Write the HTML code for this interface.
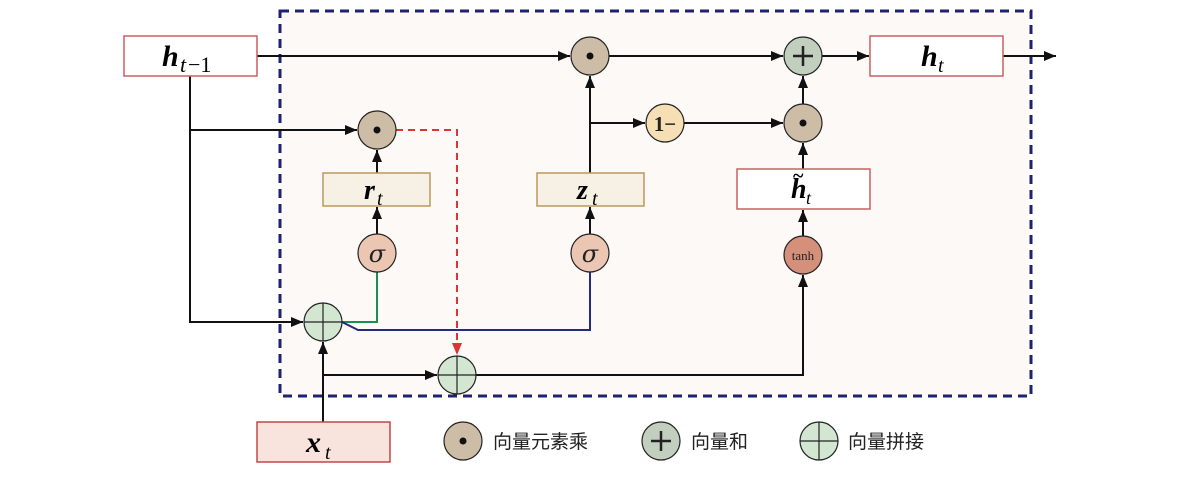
<!DOCTYPE html>
<html><head><meta charset="utf-8"><style>
html,body{margin:0;padding:0;background:#fff;}
svg{display:block;}
.m{font-family:"Liberation Serif",serif;font-weight:bold;font-style:italic;}
.s{font-family:"Liberation Serif",serif;font-style:italic;}
.c{font-family:"Liberation Sans","Noto Sans CJK SC",sans-serif;font-size:19px;fill:#222;}
</style></head><body>
<svg width="1190" height="478" viewBox="0 0 1190 478" xmlns="http://www.w3.org/2000/svg">
<defs>
<marker id="a" markerWidth="12" markerHeight="10" refX="12" refY="5" orient="auto" markerUnits="userSpaceOnUse"><path d="M0,0 L12,5 L0,10 z" fill="#111"/></marker>
<marker id="r" markerWidth="12" markerHeight="10" refX="12" refY="5" orient="auto" markerUnits="userSpaceOnUse"><path d="M0,0 L12,5 L0,10 z" fill="#d33"/></marker>
</defs>
<rect x="280" y="11" width="751" height="385" fill="#fdf9f6" stroke="#1e2270" stroke-width="3" stroke-dasharray="9,6"/>
<g stroke="#111" stroke-width="2" fill="none">
<line x1="257" y1="56" x2="570" y2="56" marker-end="url(#a)"/>
<line x1="609" y1="56" x2="783" y2="56" marker-end="url(#a)"/>
<line x1="822" y1="56" x2="869" y2="56" marker-end="url(#a)"/>
<line x1="1003" y1="56" x2="1056" y2="56" marker-end="url(#a)"/>
<polyline points="190,76 190,322 303,322" marker-end="url(#a)"/>
<line x1="190" y1="130" x2="357" y2="130" marker-end="url(#a)"/>
<line x1="377" y1="173" x2="377" y2="150" marker-end="url(#a)"/>
<line x1="377" y1="234" x2="377" y2="207" marker-end="url(#a)"/>
<line x1="590" y1="173" x2="590" y2="76" marker-end="url(#a)"/>
<line x1="590" y1="234" x2="590" y2="207" marker-end="url(#a)"/>
<line x1="590" y1="123" x2="645" y2="123" marker-end="url(#a)"/>
<line x1="684" y1="123" x2="783" y2="123" marker-end="url(#a)"/>
<line x1="803" y1="104" x2="803" y2="76" marker-end="url(#a)"/>
<line x1="803" y1="169" x2="803" y2="143" marker-end="url(#a)"/>
<line x1="803" y1="236" x2="803" y2="210" marker-end="url(#a)"/>
<polyline points="476,375 803,375 803,275" marker-end="url(#a)"/>
<line x1="323" y1="422" x2="323" y2="342" marker-end="url(#a)"/>
<line x1="323" y1="375" x2="437" y2="375" marker-end="url(#a)"/>
</g>
<polyline points="377,272 377,322 342,322" fill="none" stroke="#1a9050" stroke-width="2"/>
<polyline points="342,322 358,330 590,330 590,272" fill="none" stroke="#252a80" stroke-width="2"/>
<polyline points="396,130 457,130 457,355" fill="none" stroke="#d33" stroke-width="2" stroke-dasharray="7,5" marker-end="url(#r)"/>
<rect x="124" y="36" width="133" height="40" fill="#fff" stroke="#c86060" stroke-width="1.5"/>
<text x="162" y="66" class="m" font-size="30">h</text><text x="180" y="72" class="s" font-size="22">t</text><text x="188" y="72" font-family="Liberation Serif" font-size="22">−1</text>
<rect x="870" y="36" width="133" height="40" fill="#fff" stroke="#c86060" stroke-width="1.5"/>
<text x="921" y="66" class="m" font-size="30">h</text><text x="938" y="72" class="s" font-size="20">t</text>
<rect x="323" y="173" width="107" height="33" fill="#f6f1e4" stroke="#b8995e" stroke-width="1.5"/>
<text x="364" y="199" class="m" font-size="28">r</text><text x="377" y="205" class="s" font-size="20">t</text>
<rect x="537" y="173" width="107" height="33" fill="#f6f1e4" stroke="#b8995e" stroke-width="1.5"/>
<text x="577" y="199" class="m" font-size="28">z</text><text x="592" y="205" class="s" font-size="20">t</text>
<rect x="737" y="169" width="133" height="40" fill="#fff" stroke="#c86060" stroke-width="1.5"/>
<text x="791" y="198" class="m" font-size="28">h</text><text x="793" y="182" font-family="Liberation Serif" font-size="20" font-weight="bold">~</text><text x="806" y="204" class="s" font-size="18">t</text>
<rect x="257" y="422" width="133" height="40" fill="#f8e4dc" stroke="#c04848" stroke-width="1.5"/>
<text x="306" y="452" class="m" font-size="30">x</text><text x="325" y="459" class="s" font-size="20">t</text>
<g stroke="#222" stroke-width="1.2">
<circle cx="590" cy="56" r="19" fill="#cdbda6"/>
<circle cx="377" cy="130" r="19" fill="#cdbda6"/>
<circle cx="803" cy="123" r="19" fill="#cdbda6"/>
<circle cx="803" cy="56" r="19" fill="#c2cfbf"/>
<circle cx="665" cy="123" r="19" fill="#f6dfb4"/>
<circle cx="377" cy="253" r="19" fill="#ebc7b3"/>
<circle cx="590" cy="253" r="19" fill="#ebc7b3"/>
<circle cx="803" cy="255" r="19" fill="#d4907a"/>
<circle cx="323" cy="322" r="19" fill="#d2e6d2"/>
<circle cx="457" cy="375" r="19" fill="#d2e6d2"/>
<circle cx="463" cy="441" r="19" fill="#cdbda6"/>
<circle cx="661" cy="441" r="19" fill="#c2cfbf"/>
<circle cx="819" cy="441" r="19" fill="#d2e6d2"/>
</g>
<g fill="#111"><circle cx="590" cy="56" r="3.5"/><circle cx="377" cy="130" r="3.5"/><circle cx="803" cy="123" r="3.5"/><circle cx="463" cy="441" r="3.5"/></g>
<g stroke="#222" stroke-width="1.2">
<line x1="304" y1="322" x2="342" y2="322"/><line x1="323" y1="303" x2="323" y2="341"/>
<line x1="438" y1="375" x2="476" y2="375"/><line x1="457" y1="356" x2="457" y2="394"/>
<line x1="800" y1="441" x2="838" y2="441"/><line x1="819" y1="422" x2="819" y2="460"/>
</g>
<g stroke="#222" stroke-width="2.5">
<line x1="793" y1="56" x2="813" y2="56"/><line x1="803" y1="46" x2="803" y2="66"/>
<line x1="651" y1="441" x2="671" y2="441"/><line x1="661" y1="431" x2="661" y2="451"/>
</g>
<text x="665" y="131" text-anchor="middle" font-family="Liberation Serif" font-weight="bold" font-size="21" fill="#222">1−</text>
<text x="377" y="262" text-anchor="middle" font-family="DejaVu Serif" font-style="italic" font-size="24" fill="#222">σ</text>
<text x="590" y="262" text-anchor="middle" font-family="DejaVu Serif" font-style="italic" font-size="24" fill="#222">σ</text>
<text x="803" y="260" text-anchor="middle" font-family="Liberation Serif" font-size="13" fill="#222">tanh</text>
<text x="493" y="448" class="c">向量元素乘</text>
<text x="691" y="448" class="c">向量和</text>
<text x="848" y="448" class="c">向量拼接</text>
</svg>
</body></html>
